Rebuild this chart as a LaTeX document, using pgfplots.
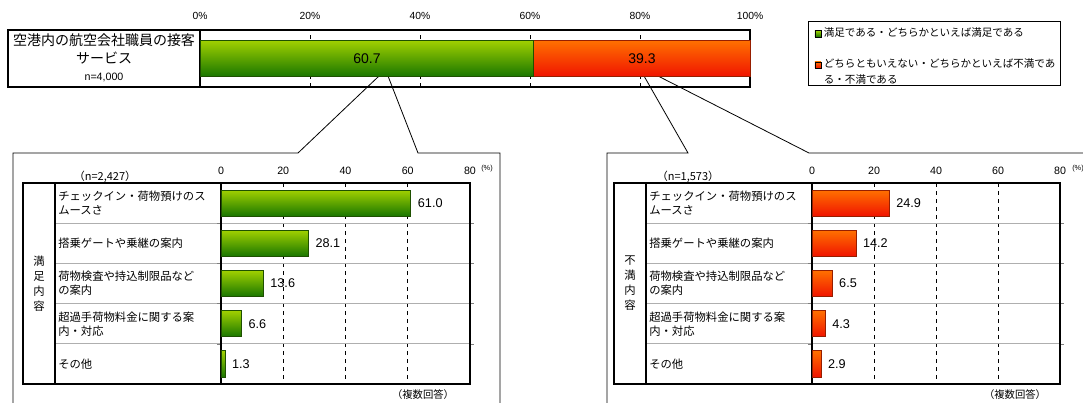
\documentclass[border=0pt]{standalone}
\usepackage{pgfplots}
\pgfplotsset{compat=1.18}
\usepackage{fontspec}
\setmainfont{Liberation Sans}
\newfontfamily\jp{Noto Sans CJK JP}
\definecolor{gtop}{RGB}{160,208,0}
\definecolor{gbot}{RGB}{25,118,0}
\definecolor{gedge}{RGB}{30,80,0}
\definecolor{otop}{RGB}{255,112,0}
\definecolor{obot}{RGB}{240,20,0}
\definecolor{oedge}{RGB}{150,30,0}
\definecolor{sepc}{RGB}{175,175,175}

\pgfplotsset{
  gb/.style={draw=gedge, line width=0.6pt, top color=gtop, bottom color=gbot, bar shift=0pt},
  ob/.style={draw=oedge, line width=0.6pt, top color=otop, bottom color=obot, bar shift=0pt},
  sub/.style={
    anchor=south west, scale only axis, width=186.75pt, height=150.75pt,
    xbar, xmin=0, xmax=80, ymin=-0.5, ymax=4.5, y dir=reverse, bar width=0.647,
    xtick={0,20,40,60,80}, xticklabel pos=upper,
    xmajorgrids, x grid style={black, dashed, line width=0.5pt},
    ytick={0,1,2,3,4},
    yticklabels={{チェックイン・荷物預けのス\\ムースさ},{搭乗ゲートや乗継の案内},{荷物検査や持込制限品など\\の案内},{超過手荷物料金に関する案\\内・対応},{その他}},
    minor ytick={0.5,1.5,2.5,3.5}, yminorgrids, minor y grid style={sepc, line width=1pt},
    major tick length=0pt, minor tick length=3pt,
    axis line style={black, line width=1pt},
    yticklabel style={anchor=west, xshift=-122.25pt, inner sep=0pt, text width=124pt, align=left, font=\jp\fontsize{8.5}{10.5}\selectfont},
    xticklabel style={font=\fontsize{8}{9}\selectfont, yshift=3pt},
    /pgf/number format/assume math mode=true,
    point meta=x,
    nodes near coords={\pgfmathprintnumber[fixed,fixed zerofill,precision=1]{\pgfplotspointmeta}},
    every node near coord/.append style={anchor=west, inner sep=0pt, xshift=5pt, font=\fontsize{9.5}{11}\selectfont, text=black},
    clip=false,
  }
}

\begin{document}
\begin{tikzpicture}
\useasboundingbox (0,0) rectangle (812.25pt,-302.25pt);
\begin{scope}[x=0.75pt,y=-0.75pt]
\coordinate (TA) at (200,87);
\coordinate (LA) at (221,384);
\coordinate (RA) at (812,384);
% top label cell
\draw[line width=1.5pt] (7.5,30) rectangle (200,87);
% legend frame
\draw[line width=0.6pt] (808,21) rectangle (1060,85);
% callout frames
\draw[line width=0.6pt] (13,403) -- (13,153) -- (298,153) -- (379,76);
\draw[line width=0.6pt] (388,76) -- (418,153) -- (500,153) -- (500,403);
\draw[line width=0.6pt] (607,403) -- (607,153) -- (688,153) -- (644,76);
\draw[line width=0.6pt] (658,76) -- (809,153) -- (1083,153);
% left table
\foreach \y in {223.2,263.4,303.6,343.8} \draw[sepc, line width=1pt] (55,\y) -- (221,\y);
\draw[line width=0.9pt] (23,183) rectangle (470,384);
\draw[line width=0.9pt] (55,183) -- (55,384);
% right table
\foreach \y in {223.2,263.4,303.6,343.8} \draw[sepc, line width=1pt] (646,\y) -- (812,\y);
\draw[line width=0.9pt] (614,183) rectangle (1060,384);
\draw[line width=0.9pt] (646,183) -- (646,384);
\end{scope}

% top stacked bar
\begin{axis}[at={(TA)}, anchor=south west, scale only axis, width=412.5pt, height=42.75pt,
  xbar stacked, xmin=0, xmax=100, ymin=-1, ymax=1, bar width=1.263,
  ytick=\empty, xtick={0,20,...,100}, xticklabel pos=upper,
  xticklabel={\pgfmathprintnumber{\tick}\%},
  xticklabel style={font=\fontsize{7.75}{9}\selectfont, yshift=4pt},
  xmajorgrids, x grid style={black, dashed, line width=0.6pt},
  major tick length=0pt, axis line style={black, line width=1.5pt},
  /pgf/number format/assume math mode=true,
  legend style={at={(1.1145,1.158)}, anchor=north west, draw=none, fill=none,
    font=\jp\fontsize{7.9}{12}\selectfont, cells={anchor=base west},
    row sep=9.5pt, inner xsep=1pt, inner ysep=3pt},
  legend image code/.code={\draw[#1, line width=0.4pt, draw=black] (0pt,0pt) rectangle (4.6pt,4.6pt);},
  clip=false]
\addplot[draw=gedge, line width=0.6pt, top color=gtop, bottom color=gbot] coordinates {(60.7,0)};
\addplot[draw=oedge, line width=0.6pt, top color=otop, bottom color=obot] coordinates {(39.3,0)};
\legend{{満足である・どちらかといえば満足である},{\begin{tabular}[t]{@{}l@{}}どちらともいえない・どちらかといえば不満であ\\る・不満である\end{tabular}}}
\end{axis}

% left panel
\begin{axis}[sub, at={(LA)}]
\addplot[gb] coordinates {(61.0,0)};
\addplot[gb] coordinates {(28.1,1)};
\addplot[gb] coordinates {(13.6,2)};
\addplot[gb] coordinates {(6.6,3)};
\addplot[gb] coordinates {(1.3,4)};
\end{axis}

% right panel
\begin{axis}[sub, at={(RA)}, width=186pt]
\addplot[ob] coordinates {(24.9,0)};
\addplot[ob] coordinates {(14.2,1)};
\addplot[ob] coordinates {(6.5,2)};
\addplot[ob] coordinates {(4.3,3)};
\addplot[ob] coordinates {(2.9,4)};
\end{axis}

\begin{scope}[x=0.75pt,y=-0.75pt]
\node[font=\fontsize{10.5}{12}\selectfont] at (367,58.5) {60.7};
\node[font=\fontsize{10.5}{12}\selectfont] at (642,58.5) {39.3};
\node[font=\jp\fontsize{10.5}{12}\selectfont] at (104,40.5) {空港内の航空会社職員の接客};
\node[font=\jp\fontsize{10.5}{12}\selectfont] at (104,58.5) {サービス};
\node[font=\fontsize{8}{10}\selectfont] at (104,77) {n=4,000};
\node[font=\jp\fontsize{8.25}{10}\selectfont] at (105,177) {（n=2,427）};
\node[font=\jp\fontsize{8.25}{10}\selectfont] at (688,176.5) {（n=1,573）};
\node[font=\jp\fontsize{7.75}{10}\selectfont] at (423,395) {（複数回答）};
\node[font=\jp\fontsize{7.75}{10}\selectfont] at (1015,395) {（複数回答）};
\node[font=\fontsize{5.5}{6}\selectfont] at (487,169) {(\%)};
\node[font=\fontsize{5.5}{6}\selectfont] at (1078,169) {(\%)};
\node[font=\jp\fontsize{8.5}{11.25}\selectfont, align=center] at (39,283.5) {満\\足\\内\\容};
\node[font=\jp\fontsize{8.5}{11.25}\selectfont, align=center] at (630,283.5) {不\\満\\内\\容};
\end{scope}
\end{tikzpicture}
\end{document}
